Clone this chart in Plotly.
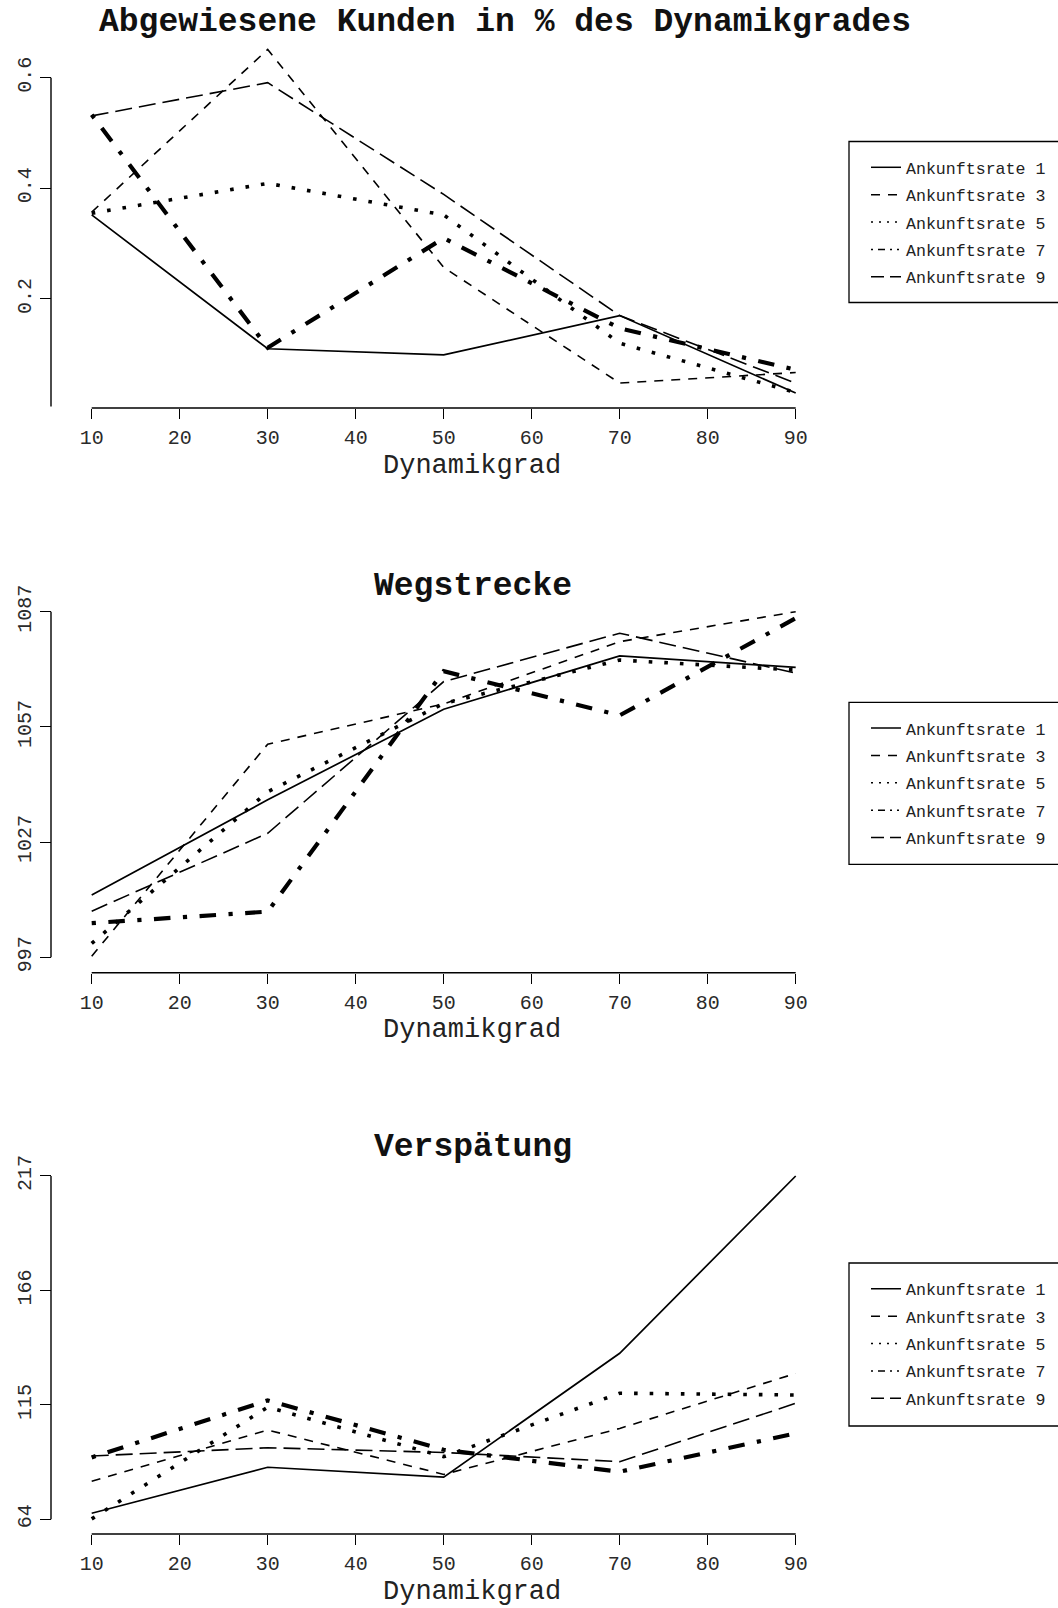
import plotly.graph_objects as go

W, H = 1058, 1608
FONT = "Liberation Mono"

# ---------------- data ----------------
dynamikgrad = [10, 30, 50, 70, 90]
x_ticks = [10, 20, 30, 40, 50, 60, 70, 80, 90]
series_names = ["Ankunftsrate 1", "Ankunftsrate 3", "Ankunftsrate 5",
                "Ankunftsrate 7", "Ankunftsrate 9"]

abgewiesen_r1 = [0.352, 0.110, 0.099, 0.170, 0.030]
abgewiesen_r3 = [0.357, 0.651, 0.257, 0.048, 0.067]
abgewiesen_r5 = [0.355, 0.409, 0.352, 0.120, 0.031]
abgewiesen_r7 = [0.533, 0.112, 0.310, 0.147, 0.072]
abgewiesen_r9 = [0.531, 0.591, 0.389, 0.170, 0.048]
abgewiesen_ticks = [0.2, 0.4, 0.6]
abgewiesen_labels = ["0.2", "0.4", "0.6"]

weg_r1 = [1013.2, 1038.0, 1061.6, 1075.5, 1072.5]
weg_r3 = [997.3, 1052.5, 1063.0, 1079.2, 1087.0]
weg_r5 = [1000.6, 1040.1, 1063.1, 1074.4, 1071.8]
weg_r7 = [1005.9, 1008.9, 1071.5, 1060.0, 1085.3]
weg_r9 = [1009.0, 1029.3, 1068.8, 1081.4, 1071.0]
weg_ticks = [997, 1027, 1057, 1087]
weg_labels = ["997", "1027", "1057", "1087"]

versp_r1 = [66.7, 87.2, 82.8, 138.0, 217.0]
versp_r3 = [81.0, 103.8, 84.0, 104.5, 129.0]
versp_r5 = [64.2, 114.0, 91.9, 120.2, 119.4]
versp_r7 = [91.6, 117.0, 95.0, 85.2, 102.3]
versp_r9 = [92.2, 95.9, 93.8, 89.7, 115.7]
versp_ticks = [64, 115, 166, 217]
versp_labels = ["64", "115", "166", "217"]

# ---------------- styles / layout ----------------
line_styles = [
    dict(width=1.7, dash="solid"),
    dict(width=1.6, dash="9px,8px"),
    dict(width=3.6, dash="3.6px,12px"),
    dict(width=4.2, dash="4.2px,12.5px,16.5px,12.5px"),
    dict(width=1.6, dash="17px,7px"),
]
legend_styles = [
    dict(width=1.5, dash="solid"),
    dict(width=1.5, dash="9px,8px"),
    dict(width=1.5, dash="2px,6px"),
    dict(width=1.5, dash="2px,5px,7px,5px,2px,5px"),
    dict(width=1.5, dash="13px,6px"),
]


def fx(px):
    return px / W


def fy(py):
    return 1 - py / H


panels = [
    dict(title="Abgewiesene Kunden in % des Dynamikgrades", title_x=505, title_y=22,
         series=[abgewiesen_r1, abgewiesen_r3, abgewiesen_r5, abgewiesen_r7, abgewiesen_r9],
         ticks=abgewiesen_ticks, labels=abgewiesen_labels,
         yrange=[-0.02, 0.68], ydom_px=(420.7, 33.44),
         yline=(0.0055, 0.6), xaxis_py=408, xlabel_py=466, legend_box=(141.5, 302.5)),
    dict(title="Wegstrecke", title_x=473, title_y=586,
         series=[weg_r1, weg_r3, weg_r5, weg_r7, weg_r9],
         ticks=weg_ticks, labels=weg_labels,
         yrange=[993, 1091], ydom_px=(972.66, 596.34),
         yline=(997, 1087), xaxis_py=972.7, xlabel_py=1030, legend_box=(702.3, 864.3)),
    dict(title="Verspätung", title_x=473, title_y=1147,
         series=[versp_r1, versp_r3, versp_r5, versp_r7, versp_r9],
         ticks=versp_ticks, labels=versp_labels,
         yrange=[60, 221], ydom_px=(1528.3, 1167.0),
         yline=(64, 217), xaxis_py=1534, xlabel_py=1592, legend_box=(1263, 1426)),
]

X_RANGE = [6, 94]
X_DOM = [fx(56.5), fx(830.9)]
YAXIS_PX = 51
LEGEND_BOX_LEFT = 849
LEGEND_X = 866

fig = go.Figure()
shapes = []
annotations = []
layout = {}

for i, p in enumerate(panels):
    n = "" if i == 0 else str(i + 1)
    xa, ya = "x" + n, "y" + n
    leg = "legend" + n
    for s, name, st, lst in zip(p["series"], series_names, line_styles, legend_styles):
        fig.add_trace(go.Scatter(x=dynamikgrad, y=s, mode="lines", name=name,
                                 xaxis=xa, yaxis=ya, showlegend=False,
                                 line=dict(color="black", **st)))
        fig.add_trace(go.Scatter(x=[None], y=[None], mode="lines", name=name,
                                 xaxis=xa, yaxis=ya, showlegend=True, legend=leg,
                                 legendgroup=name + n,
                                 line=dict(color="black", **lst)))
    layout["xaxis" + n] = dict(
        range=X_RANGE, domain=X_DOM, anchor="free", position=fy(p["xaxis_py"]),
        tickvals=x_ticks, ticktext=[str(v) for v in x_ticks],
        ticks="outside", ticklen=10, tickwidth=1.4, tickcolor="black",
        showline=False, showgrid=False, zeroline=False,
        tickfont=dict(family=FONT, size=20, color="#2a2a2a"), ticklabelstandoff=1)
    layout["yaxis" + n] = dict(
        range=p["yrange"], domain=[fy(p["ydom_px"][0]), fy(p["ydom_px"][1])],
        anchor="free", position=fx(YAXIS_PX),
        tickvals=p["ticks"], ticktext=p["labels"], tickangle=-90,
        ticks="outside", ticklen=11, tickwidth=1.4, tickcolor="black",
        showline=False, showgrid=False, zeroline=False,
        tickfont=dict(family=FONT, size=20, color="#2a2a2a"), ticklabelstandoff=1)
    top, bottom = p["legend_box"]
    layout[leg] = dict(
        x=fx(LEGEND_X), y=fy(top + 8.5), xanchor="left", yanchor="top",
        borderwidth=0, bgcolor="rgba(0,0,0,0)",
        font=dict(family=FONT, size=16.6, color="#222"),
        traceorder="grouped", tracegroupgap=2.8, itemwidth=30)
    shapes.append(dict(type="rect", xref="paper", yref="paper",
                       x0=fx(LEGEND_BOX_LEFT), x1=fx(W + 20),
                       y0=fy(bottom), y1=fy(top),
                       line=dict(color="black", width=1.3)))
    # detached R-style axis lines
    shapes.append(dict(type="line", xref=xa, yref="paper",
                       x0=x_ticks[0], x1=x_ticks[-1],
                       y0=fy(p["xaxis_py"]), y1=fy(p["xaxis_py"]),
                       line=dict(color="black", width=1.4)))
    shapes.append(dict(type="line", xref="paper", yref=ya,
                       x0=fx(YAXIS_PX), x1=fx(YAXIS_PX),
                       y0=p["yline"][0], y1=p["yline"][1],
                       line=dict(color="black", width=1.4)))
    annotations.append(dict(text="<b>" + p["title"] + "</b>", xref="paper", yref="paper",
                            x=fx(p["title_x"]), y=fy(p["title_y"]),
                            xanchor="center", yanchor="middle", showarrow=False,
                            font=dict(family=FONT, size=33, color="#111")))
    annotations.append(dict(text="Dynamikgrad", xref="paper", yref="paper",
                            x=fx(472), y=fy(p["xlabel_py"]),
                            xanchor="center", yanchor="middle", showarrow=False,
                            font=dict(family=FONT, size=27, color="#222")))

fig.update_layout(
    width=W, height=H, autosize=False,
    margin=dict(l=0, r=0, t=0, b=0, autoexpand=False),
    paper_bgcolor="white", plot_bgcolor="white",
    shapes=shapes, annotations=annotations,
    **layout,
)

fig.write_html("out.html", config={"displayModeBar": False},
               post_script="document.body.style.margin='0px';")
